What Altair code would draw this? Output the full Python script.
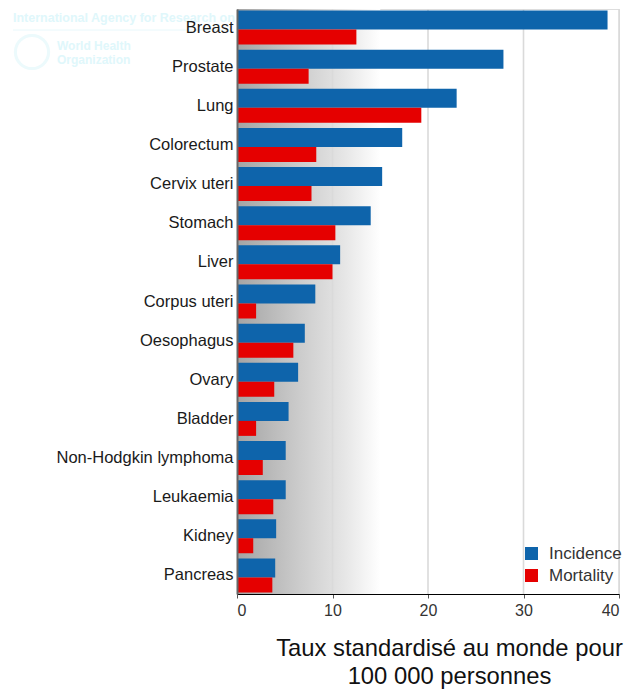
import altair as alt
import pandas as pd

cancers = ["Breast", "Prostate", "Lung", "Colorectum", "Cervix uteri", "Stomach",
           "Liver", "Corpus uteri", "Oesophagus", "Ovary", "Bladder",
           "Non-Hodgkin lymphoma", "Leukaemia", "Kidney", "Pancreas"]
incidence = [38.8, 27.9, 23.0, 17.3, 15.2, 14.0, 10.8, 8.2, 7.1, 6.4, 5.4, 5.1, 5.1, 4.1, 4.0]
mortality = [12.5, 7.5, 19.3, 8.3, 7.8, 10.3, 10.0, 2.0, 5.9, 3.9, 2.0, 2.7, 3.8, 1.7, 3.7]
measures = ["Incidence", "Mortality"]
colors = ["#0e64ab", "#e50000"]
x_ticks = [0, 10, 20, 30, 40]
grid_vals = [10, 20, 30, 40]
axis_title = ["Taux standardisé au monde pour", "100 000 personnes"]
FONT = "Liberation Sans"

rows = []
for c, i, m in zip(cancers, incidence, mortality):
    rows.append({"cancer": c, "measure": "Incidence", "value": i})
    rows.append({"cancer": c, "measure": "Mortality", "value": m})
df = pd.DataFrame(rows)

W, H = 382, 585

xscale = alt.Scale(domain=[0, 40], nice=False, zero=True)
yscale = alt.Scale(domain=cancers, paddingInner=5 / 39, paddingOuter=0.04)
cscale = alt.Scale(domain=measures, range=colors)

x_axis = alt.Axis(values=x_ticks, title=axis_title, grid=False,
                  tickColor="#555", tickSize=4, domainColor="#000",
                  labelFontSize=16, labelColor="#333", labelPadding=4,
                  labelFont=FONT, titleFont=FONT, titleFontSize=23.8,
                  titleFontWeight="normal", titleColor="#111",
                  titleLineHeight=28, titleX=212, titleY=61,
                  titleAlign="center", titleBaseline="alphabetic")
y_axis = alt.Axis(title=None, ticks=False, domainColor="#666", domainWidth=2,
                  labelFontSize=16.5, labelFont=FONT, labelColor="#1a1a1a",
                  labelPadding=4, zindex=1)
legend = alt.Legend(title=None, orient="none", legendX=286, legendY=536,
                    symbolType="square", symbolSize=169,
                    symbolStrokeWidth=0, labelFontSize=17,
                    labelFont=FONT, labelColor="#333",
                    labelOffset=9, rowPadding=4, padding=0)

grad = alt.Gradient(
    gradient="linear",
    stops=[alt.GradientStop(offset=0, color="#a4a4a4"),
           alt.GradientStop(offset=0.45, color="#cdcdcd"),
           alt.GradientStop(offset=0.75, color="#e6e6e6"),
           alt.GradientStop(offset=1, color="#ffffff")],
    x1=0, x2=1, y1=0, y2=0)

bg = alt.Chart(pd.DataFrame({"a": [0], "b": [15]})).mark_rect(fill=grad).encode(
    x=alt.X("a:Q", scale=xscale, axis=x_axis),
    x2="b:Q",
    y=alt.value(0),
    y2=alt.value(H),
)

grid = alt.Chart(pd.DataFrame({"g": grid_vals})).mark_rule(
    color="#dadada", strokeWidth=1.6).encode(
    x=alt.X("g:Q", scale=xscale, axis=x_axis),
    y=alt.value(0),
    y2=alt.value(H),
)

wm_color = "#e0f7fb"
wm1 = alt.Chart(pd.DataFrame({"t": ["International Agency for Research on Cancer"]})).mark_text(
    font=FONT, fontSize=12.5, fontWeight="bold", color=wm_color, align="left",
    baseline="alphabetic").encode(text="t:N", x=alt.value(-224), y=alt.value(13))
wm_line = alt.Chart(pd.DataFrame({"t": [1]})).mark_rule(color="#e8f8fb", strokeWidth=1).encode(
    x=alt.value(-224), x2=alt.value(-8), y=alt.value(21))
wm2 = alt.Chart(pd.DataFrame({"t": ["World Health"]})).mark_text(
    font=FONT, fontSize=12, fontWeight="bold", color=wm_color, align="left",
    baseline="alphabetic").encode(text="t:N", x=alt.value(-180), y=alt.value(41))
wm3 = alt.Chart(pd.DataFrame({"t": ["Organization"]})).mark_text(
    font=FONT, fontSize=12, fontWeight="bold", color=wm_color, align="left",
    baseline="alphabetic").encode(text="t:N", x=alt.value(-180), y=alt.value(55))
wm_logo = alt.Chart(pd.DataFrame({"t": [1]})).mark_point(
    shape="circle", size=1100, filled=False, strokeWidth=3, color="#e4f8fb").encode(
    x=alt.value(-205), y=alt.value(43))

base = alt.Chart(df)
bars_i = base.transform_filter(alt.datum.measure == "Incidence").mark_bar(
    size=19, yOffset=-7.5).encode(
    x=alt.X("value:Q", scale=xscale, axis=x_axis),
    y=alt.Y("cancer:N", scale=yscale, sort=cancers, axis=y_axis),
    color=alt.Color("measure:N", scale=cscale, legend=legend),
)
bars_m = base.transform_filter(alt.datum.measure == "Mortality").mark_bar(
    size=15, yOffset=9.5).encode(
    x=alt.X("value:Q", scale=xscale, axis=x_axis),
    y=alt.Y("cancer:N", scale=yscale, sort=cancers, axis=y_axis),
    color=alt.Color("measure:N", scale=cscale, legend=legend),
)

chart = alt.layer(wm_logo, wm1, wm_line, wm2, wm3, bg, grid, bars_i, bars_m).properties(
    width=W, height=H,
    autosize=alt.AutoSizeParams(type="none"),
    padding={"left": 237, "top": 9, "right": 10, "bottom": 99},
).configure_view(stroke=None).configure(background="white")

chart.save("out.html", embed_options={"renderer": "svg", "actions": False})
